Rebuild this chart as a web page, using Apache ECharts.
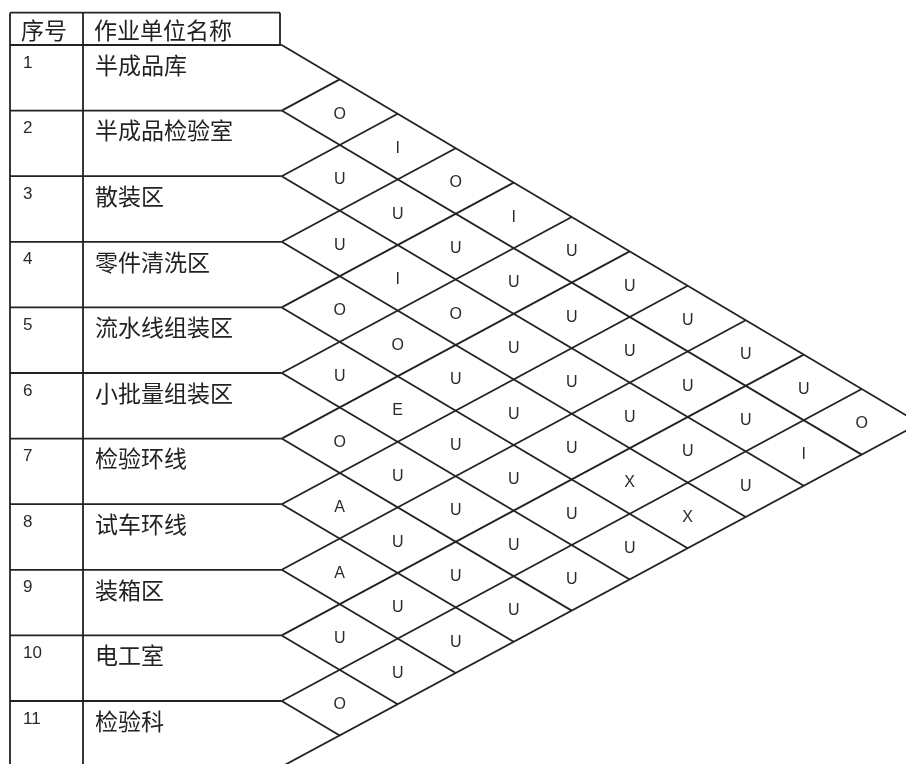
<!DOCTYPE html>
<html>
<head>
<meta charset="utf-8">
<script src="https://cdn.jsdelivr.net/npm/echarts@6/dist/echarts.min.js"></script>
<style>
html,body{margin:0;padding:0;background:#fff;}
#chart{width:906px;height:764px;}
</style>
</head>
<body>
<div id="chart"></div>
<script>
// ---- data ----
const headerTitles = ['序号', '作业单位名称'];
const unitIds = ['1', '2', '3', '4', '5', '6', '7', '8', '9', '10', '11'];
const unitNames = ['半成品库', '半成品检验室', '散装区', '零件清洗区', '流水线组装区', '小批量组装区', '检验环线', '试车环线', '装箱区', '电工室', '检验科'];
// relation of unit i with units i+1 ... 11
const rel1 = ['O', 'I', 'O', 'I', 'U', 'U', 'U', 'U', 'U', 'O'];
const rel2 = ['U', 'U', 'U', 'U', 'U', 'U', 'U', 'U', 'I'];
const rel3 = ['U', 'I', 'O', 'U', 'U', 'U', 'U', 'U'];
const rel4 = ['O', 'O', 'U', 'U', 'U', 'X', 'X'];
const rel5 = ['U', 'E', 'U', 'U', 'U', 'U'];
const rel6 = ['O', 'U', 'U', 'U', 'U'];
const rel7 = ['A', 'U', 'U', 'U'];
const rel8 = ['A', 'U', 'U'];
const rel9 = ['U', 'U'];
const rel10 = ['O'];
const relations = [rel1, rel2, rel3, rel4, rel5, rel6, rel7, rel8, rel9, rel10];

// ---- layout (lattice units: x = one diamond step, y = one table row) ----
const W = 906, H = 764;
const X0 = 281.7, UX = 58, Y0 = 45, UY = 65.6, SK = 0.0244;
const ux = px => (px - X0) / UX;
const uy = px => (px - Y0) / UY;
const N = unitNames.length;
const TABLE_LEFT = 10, COL_DIV = 83, HEADER_TOP = 12.7, HEADER_RIGHT = 280;
const LINE = '#222';
const CJK = '"Noto Sans CJK SC", sans-serif';
const LAT = '"Liberation Sans", Arial, sans-serif';

// segments of the table and lattice
const segments = [];
segments.push([ux(TABLE_LEFT), uy(HEADER_TOP), ux(HEADER_RIGHT), uy(HEADER_TOP)]);
segments.push([ux(HEADER_RIGHT), uy(HEADER_TOP), ux(HEADER_RIGHT), 0]);
segments.push([ux(TABLE_LEFT), uy(HEADER_TOP), ux(TABLE_LEFT), N]);
segments.push([ux(COL_DIV), uy(HEADER_TOP), ux(COL_DIV), N]);
for (let k = 0; k < N; k++) segments.push([ux(TABLE_LEFT), k, 0, k]);
for (let k = 0; k < N; k++) segments.push([0, k, N - k, k + (0.5 + SK) * (N - k)]);
for (let k = 1; k <= N; k++) segments.push([0, k, k, k - (0.5 - SK) * k]);

// relation cells
const cells = [];
relations.forEach((row, r) => {
  const i = r + 1;
  row.forEach((code, c) => {
    const j = i + c + 1;
    cells.push([j - i, (0.5 + SK) * j + (0.5 - SK) * i - 0.5, code]);
  });
});

// table rows
const rows = unitNames.map((name, r) => [r, unitIds[r], name]);

const chart = echarts.init(document.getElementById('chart'), null, {renderer: 'canvas'});
chart.setOption({
  backgroundColor: '#ffffff',
  animation: false,
  grid: {left: 0, top: 0, width: W, height: H, containLabel: false},
  xAxis: {type: 'value', min: ux(0), max: ux(W), show: false},
  yAxis: {type: 'value', min: uy(0), max: uy(H), inverse: true, show: false},
  series: [
    {
      type: 'custom',
      name: 'lines',
      data: segments,
      clip: true,
      silent: true,
      renderItem: (params, api) => {
        const p1 = api.coord([api.value(0), api.value(1)]);
        const p2 = api.coord([api.value(2), api.value(3)]);
        return {type: 'line', shape: {x1: p1[0], y1: p1[1], x2: p2[0], y2: p2[1]},
          style: {stroke: LINE, lineWidth: 1.8}};
      }
    },
    {
      type: 'custom',
      name: 'cells',
      data: cells,
      silent: true,
      renderItem: (params, api) => {
        const p = api.coord([api.value(0), api.value(1)]);
        const code = cells[params.dataIndex][2];
        return {type: 'text', x: p[0], y: p[1] + 2,
          style: {text: code, fill: '#2a2a2a', fontSize: 16, fontFamily: LAT,
            align: 'center', verticalAlign: 'middle', textAlign: 'center', textVerticalAlign: 'middle'}};
      }
    },
    {
      type: 'custom',
      name: 'rows',
      data: rows,
      silent: true,
      renderItem: (params, api) => {
        const r = rows[params.dataIndex];
        const pn = api.coord([ux(23), r[0] + 18 / UY]);
        const pt = api.coord([ux(95), r[0] + 20 / UY]);
        return {type: 'group', children: [
          {type: 'text', x: pn[0], y: pn[1],
            style: {text: r[1], fill: '#2a2a2a', fontSize: 17, fontFamily: LAT,
              align: 'left', verticalAlign: 'middle', textAlign: 'left', textVerticalAlign: 'middle'}},
          {type: 'text', x: pt[0], y: pt[1],
            style: {text: r[2], fill: '#222', fontSize: 23, fontFamily: CJK,
              align: 'left', verticalAlign: 'middle', textAlign: 'left', textVerticalAlign: 'middle'}}
        ]};
      }
    },
    {
      type: 'custom',
      name: 'header',
      data: [[ux(21), uy(30), 0], [ux(94), uy(30), 1]],
      silent: true,
      renderItem: (params, api) => {
        const p = api.coord([api.value(0), api.value(1)]);
        return {type: 'text', x: p[0], y: p[1],
          style: {text: headerTitles[params.dataIndex], fill: '#222', fontSize: 23, fontFamily: CJK,
            align: 'left', verticalAlign: 'middle', textAlign: 'left', textVerticalAlign: 'middle'}};
      }
    }
  ]
});
</script>
</body>
</html>
